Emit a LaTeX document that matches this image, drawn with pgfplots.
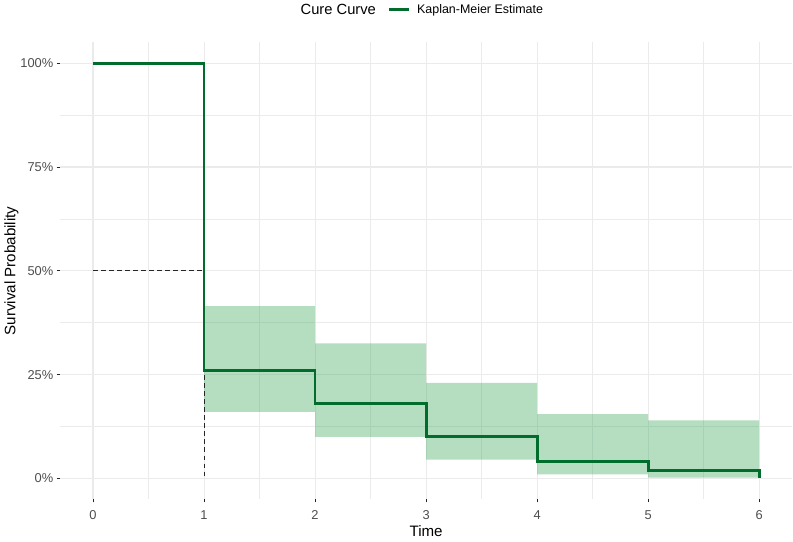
\documentclass[border=0pt]{standalone}
\usepackage{pgfplots}
\pgfplotsset{compat=1.18}
\usepgfplotslibrary{fillbetween}
\usepackage{fontspec}
\setmainfont{Liberation Sans}
\definecolor{gridc}{HTML}{EBEBEB}
\definecolor{kmline}{HTML}{006D2C}
\definecolor{kmfill}{HTML}{31A354}
\definecolor{tickc}{HTML}{4D4D4D}
\begin{document}
\begin{tikzpicture}
\begin{axis}[
  scale only axis, width=547.5pt, height=341.25pt,
  xmin=-0.3, xmax=6.3, ymin=-5, ymax=105,
  axis line style={draw=none},
  xtick={0,1,2,3,4,5,6},
  ytick={0,25,50,75,100},
  minor xtick={0.5,1.5,2.5,3.5,4.5,5.5},
  minor ytick={12.5,37.5,62.5,87.5},
  grid=both,
  major grid style={color=gridc, line width=0.8pt},
  minor grid style={color=gridc, line width=0.45pt},
  tick align=outside, major tick length=2.3pt, minor tick length=0pt,
  tick pos=left,
  major tick style={color=black!85, line width=0.6pt},
  /pgf/number format/assume math mode=true,
  yticklabel={\pgfmathprintnumber{\tick}\%},
  ticklabel style={font=\fontsize{9.6}{11}\selectfont, color=tickc},
  yticklabel style={xshift=1pt},
  xticklabel style={yshift=-3pt},
  xlabel={Time}, ylabel={Survival Probability},
  label style={font=\fontsize{11.3}{13}\selectfont},
  xlabel style={yshift=2.5pt},
  ylabel style={yshift=-5.5pt},
  legend style={at={(rel axis cs:0.447,1)}, anchor=west, yshift=24.5pt,
    draw=none, fill=none, inner sep=0pt, font=\fontsize{9.3}{11}\selectfont,
    /tikz/every even column/.append style={column sep=0pt}},
  legend image code/.code={\draw[#1, line width=2.1pt] (0pt,0pt) -- (15pt,0pt);},
  clip=false,
]
% confidence band
\addplot[name path=upper, draw=none, const plot, forget plot] coordinates {
 (1,41.5) (2,32.5) (3,23) (4,15.5) (5,14) (6,14)};
\addplot[name path=lower, draw=none, const plot, forget plot] coordinates {
 (1,16) (2,10) (3,4.5) (4,1) (5,0.2) (6,0.2)};
\addplot[kmfill, fill opacity=0.36, draw=none, forget plot] fill between[of=upper and lower];
% median dashed lines
\addplot[black!85, dash pattern=on 3.5pt off 2.5pt, line width=0.8pt, forget plot] coordinates {(0,50) (1,50)};
\addplot[black!85, dash pattern=on 3.5pt off 2.5pt, line width=0.8pt, forget plot] coordinates {(1,50) (1,0)};
% KM step curve
\addplot[kmline, line width=2.1pt, const plot] coordinates {
 (0,100) (1,26) (2,18) (3,10) (4,4) (5,2) (6,0)};
\addlegendentry{\hspace{3pt}Kaplan-Meier Estimate}
\node[anchor=east, font=\fontsize{11}{13}\selectfont] at ([yshift=24.5pt]rel axis cs:0.438,1) {Cure Curve};
\end{axis}
\end{tikzpicture}
\end{document}
